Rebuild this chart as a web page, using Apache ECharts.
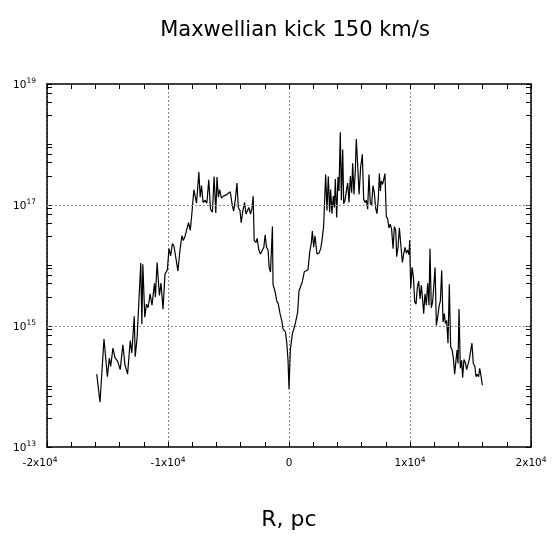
<!DOCTYPE html>
<html>
<head>
<meta charset="utf-8">
<script src="https://cdn.jsdelivr.net/npm/echarts@6/dist/echarts.min.js"></script>
<style>
html,body{margin:0;padding:0;background:#fff;}
#chart{width:552px;height:537px;}
</style>
</head>
<body>
<div id="chart"></div>
<script>
// Radius, pc
const radiusPc = [
-15890,-15620,-15290,-15010,-14850,-14740,-14550,-14380,-14160,-13950,
-13730,-13560,-13340,-13120,-12990,-12790,-12710,-12550,-12410,-12250,
-12160,-12080,-11920,-11780,-11640,-11480,-11320,-11120,-11040,-10900,
-10710,-10580,-10410,-10250,-10050,-9920,-9780,-9640,-9510,-9320,
-9180,-9010,-8850,-8740,-8600,-8470,-8300,-8160,-8030,-7860,
-7750,-7640,-7450,-7340,-7230,-7100,-6930,-6790,-6630,-6490,
-6330,-6190,-6050,-5950,-5840,-5730,-5590,-5420,-5290,-5120,
-4960,-4850,-4710,-4580,-4440,-4300,-4190,-4050,-3950,-3810,
-3670,-3560,-3420,-3320,-3180,-3070,-2960,-2880,-2740,-2630,
-2490,-2360,-2220,-2080,-1970,-1860,-1730,-1640,-1530,-1370,
-1320,-1150,-1010,-880,-740,-600,-490,-380,-300,-190,
-80,0,110,275,410,550,716,826,964,1100,
1267,1430,1570,1710,1850,1930,2040,2150,2310,2480,
2620,2730,2860,2950,3030,3140,3250,3360,3440,3550,
3660,3750,3830,3940,4050,4130,4240,4330,4440,4520,
4630,4740,4850,4960,5070,5180,5260,5370,5480,5560,
5670,5790,5920,6060,6170,6280,6390,6500,6610,6720,
6830,6940,7050,7160,7270,7380,7470,7550,7630,7740,
7850,7930,8040,8150,8260,8370,8480,8600,8710,8820,
8900,9010,9120,9230,9370,9480,9590,9700,9810,9920,
9970,10060,10170,10280,10390,10500,10610,10720,10830,10940,
11050,11130,11240,11350,11460,11570,11650,11760,11870,11980,
12070,12180,12290,12400,12510,12620,12730,12840,12920,13030,
13140,13250,13360,13470,13580,13690,13800,13890,13970,14050,
14160,14270,14350,14460,14570,14680,14790,14900,15010,15120,
15230,15350,15460,15560,15670,15760,15870,15980
];
const density = [
1.6e14,5.5e13,6.1e14,1.45e14,2.95e14,2.15e14,4.3e14,3.0e14,2.6e14,1.9e14,
4.9e14,2.3e14,1.6e14,5.75e14,3.6e14,1.45e15,3.1e14,6.5e14,6.6e14,1.1e16,
1.07e15,1.05e16,1.4e15,2.3e15,2.0e15,3.4e15,2.2e15,5.1e15,3.0e15,1.12e16,
3.2e15,5.1e15,1.9e15,7.2e15,8.5e15,1.9e16,1.45e16,2.3e16,2.1e16,1.23e16,
8.1e15,1.8e16,3.1e16,2.6e16,3.0e16,3.8e16,5.1e16,3.8e16,7.1e16,1.8e17,
1.8e17,1.07e17,3.5e17,1.35e17,2.1e17,1.1e17,1.2e17,1.07e17,2.6e17,8.5e16,
7.6e16,2.95e17,7.4e16,2.9e17,1.35e17,1.8e17,1.3e17,1.4e17,1.3e17,1.5e17,
1.4e17,1.65e17,1.05e17,7.9e16,1.2e17,2.3e17,9.1e16,8.1e16,5.1e16,8.1e16,
1.1e17,7.1e16,7.2e16,9.1e16,7.1e16,8.5e16,1.4e17,2.6e16,2.4e16,2.8e16,
1.8e16,1.55e16,1.65e16,2.0e16,3.2e16,2.0e16,1.8e16,9.3e15,7.8e15,4.4e16,
4.9e15,3.7e15,2.6e15,2.3e15,1.6e15,1.23e15,8.9e14,9.5e14,8.1e14,5.4e14,
2.7e14,9.1e13,4.0e14,7.4e14,9.1e14,1.17e15,1.7e15,3.8e15,3.6e15,5.4e15,
7.9e15,8.3e15,8.5e15,1.65e16,2.4e16,3.7e16,2.0e16,3.1e16,1.55e16,1.6e16,
1.9e16,2.6e16,4.4e16,4.4e16,3.2e17,8.1e16,2.95e17,7.6e16,1.8e17,7.2e16,
1.4e17,9.1e16,2.7e17,6.2e16,2.9e17,1.7e17,1.6e18,1.2e17,8.3e17,1.05e17,
1.2e17,1.7e17,2.3e17,1.1e17,3.0e17,1.6e17,4.9e17,1.5e17,3.7e17,1.23e18,
4.8e17,1.5e17,4.2e17,6.9e17,1.26e17,1.1e17,1.2e17,8.5e16,3.2e17,1.07e17,
9.8e16,2.1e17,1.6e17,8.9e16,7.2e16,1.26e17,3.3e17,1.7e17,2.5e17,2.2e17,
2.3e17,3.3e17,6.5e16,5.9e16,4.2e16,4.8e16,4.0e16,1.9e16,4.4e16,3.8e16,
1.4e16,2.0e16,4.2e16,4.2e16,1.12e16,1.55e16,2.0e16,1.6e16,1.8e16,1.5e16,
2.6e16,4.2e15,9.3e15,6.5e15,2.5e15,2.3e15,4.4e15,5.5e15,2.8e15,4.7e15,
2.6e15,1.6e15,3.4e15,2.2e15,5.1e15,2.2e15,1.9e16,2.0e15,2.5e15,5.0e15,
9.3e15,1.02e15,1.4e15,2.1e15,2.6e15,8.3e15,1.17e15,1.6e15,1.1e15,1.23e15,
5.2e14,4.9e15,4.5e14,4.1e14,3.0e14,1.6e14,2.7e14,4.0e14,2.4e14,1.9e15,
2.0e14,2.7e14,1.4e14,2.8e14,2.5e14,1.9e14,2.3e14,2.8e14,2.8e14,5.2e14,
2.4e14,2.2e14,1.45e14,1.6e14,1.45e14,2.0e14,1.5e14,1.05e14
];

// Tick labels
const xTickValues = [-20000, -10000, 0, 10000, 20000];
const xTickMantissa = ['-2x10', '-1x10', '0', '1x10', '2x10'];
const xTickExponent = ['4', '4', '', '4', '4'];
const yLabelValues = [1e13, 1e15, 1e17, 1e19];
const yLabelExponent = ['13', '15', '17', '19'];
const yTickValues = [
  1e13, 3e13, 5e13, 7e13, 9e13, 1e14, 3e14, 5e14, 7e14, 9e14,
  1e15, 3e15, 5e15, 7e15, 9e15, 1e16, 3e16, 5e16, 7e16, 9e16,
  1e17, 3e17, 5e17, 7e17, 9e17, 1e18, 3e18, 5e18, 7e18, 9e18, 1e19
];
const yGridValues = [1e15, 1e17];

const FONT = '"DejaVu Sans", "Liberation Sans", Arial, sans-serif';
const rich = {
  b: { fontSize: 10.5, fontFamily: FONT, color: '#000', lineHeight: 13, verticalAlign: 'bottom' },
  s: { fontSize: 7.5, fontFamily: FONT, color: '#000', lineHeight: 13, verticalAlign: 'top' },
  bl: { fontSize: 10.5, fontFamily: FONT, color: '#000', lineHeight: 13, verticalAlign: 'bottom' },
  sl: { fontSize: 7.5, fontFamily: FONT, color: '#000', lineHeight: 13, verticalAlign: 'top', padding: [0, 14, 0, 0] }
};

function xLabel(v) {
  const i = xTickValues.indexOf(v);
  if (i < 0) return '';
  if (xTickExponent[i] === '') return '{b|' + xTickMantissa[i] + '}';
  if (i === 0) return '{bl|' + xTickMantissa[i] + '}{sl|' + xTickExponent[i] + '}';
  return '{b|' + xTickMantissa[i] + '}{s|' + xTickExponent[i] + '}';
}
function yLabel(v) {
  let best = 0;
  for (let i = 0; i < yLabelValues.length; i++) {
    if (Math.abs(yLabelValues[i] - v) / yLabelValues[i] < 1e-6) best = i;
  }
  return '{b|10}{s|' + yLabelExponent[best] + '}';
}

const seriesData = radiusPc.map((x, i) => [x, density[i]]);

const axisLineStyle = { color: '#000', width: 1.5 };
const tickStyle = { color: '#000', width: 1 };
const gridStyle = { color: '#8a8a8a', width: 1, type: [2, 2] };

const chart = echarts.init(document.getElementById('chart'), null, { renderer: 'canvas' });
chart.setOption({
  animation: false,
  backgroundColor: '#fff',
  title: {
    text: 'Maxwellian kick 150 km/s',
    left: 290,
    textAlign: 'center',
    top: 15,
    textStyle: { fontFamily: FONT, fontSize: 21, fontWeight: 'normal', color: '#000' }
  },
  grid: { left: 47, right: 21, top: 84, bottom: 90, containLabel: false },
  xAxis: [
    {
      type: 'value', position: 'bottom', min: -20000, max: 20000, interval: 10000,
      name: 'R, pc', nameLocation: 'middle', nameGap: 62,
      nameTextStyle: { fontFamily: FONT, fontSize: 22, color: '#000' },
      axisLine: { show: true, onZero: false, lineStyle: axisLineStyle },
      axisTick: { show: true, inside: true, length: 5, lineStyle: tickStyle },
      minorTick: { show: true, splitNumber: 5, length: 5, lineStyle: tickStyle },
      splitLine: { show: true, lineStyle: gridStyle },
      axisLabel: { show: true, margin: 9, formatter: xLabel, rich: rich, showMinLabel: true, showMaxLabel: true, hideOverlap: false }
    },
    {
      type: 'value', position: 'top', min: -20000, max: 20000, interval: 10000,
      axisLine: { show: true, onZero: false, lineStyle: axisLineStyle },
      axisTick: { show: true, inside: true, length: 5, lineStyle: tickStyle },
      minorTick: { show: true, splitNumber: 5, length: 5, lineStyle: tickStyle },
      splitLine: { show: false },
      axisLabel: { show: false }
    }
  ],
  yAxis: [
    {
      type: 'log', logBase: 10, position: 'left', min: 1e13, max: 1e19,
      axisLine: { show: true, onZero: false, lineStyle: axisLineStyle },
      axisTick: { show: true, inside: true, length: 5, lineStyle: tickStyle, customValues: yTickValues },
      minorTick: { show: false },
      splitLine: { show: false },
      axisLabel: { show: true, margin: 11, customValues: yLabelValues, formatter: yLabel, rich: rich }
    },
    {
      type: 'log', logBase: 10, position: 'right', min: 1e13, max: 1e19,
      axisLine: { show: true, onZero: false, lineStyle: axisLineStyle },
      axisTick: { show: true, inside: true, length: 5, lineStyle: tickStyle, customValues: yTickValues },
      minorTick: { show: false },
      splitLine: { show: false },
      axisLabel: { show: false }
    }
  ],
  series: [
    {
      type: 'line',
      xAxisIndex: 0,
      yAxisIndex: 0,
      data: seriesData,
      showSymbol: false,
      symbol: 'none',
      lineStyle: { color: '#000', width: 1.2 },
      silent: true,
      markLine: {
        silent: true,
        symbol: 'none',
        label: { show: false },
        lineStyle: gridStyle,
        data: yGridValues.map(v => ({ yAxis: v }))
      }
    }
  ]
});
</script>
</body>
</html>
